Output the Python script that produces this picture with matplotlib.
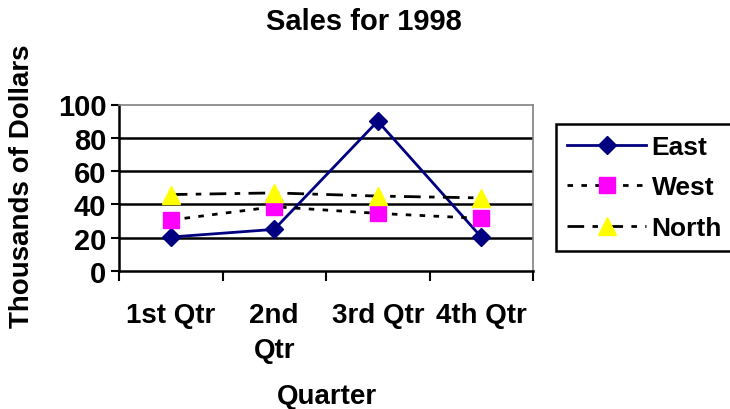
import matplotlib.pyplot as plt
from matplotlib.ticker import FixedLocator

plt.rcParams["font.family"] = ["Liberation Sans", "DejaVu Sans"]
plt.rcParams["font.weight"] = "bold"

quarters = ["1st Qtr", "2nd\nQtr", "3rd Qtr", "4th Qtr"]
east = [20.4, 25.0, 90.0, 20.4]
west = [30.6, 38.6, 34.6, 31.6]
north = [45.9, 46.9, 45.0, 43.9]
y_ticks = [0, 20, 40, 60, 80, 100]

fig = plt.figure(figsize=(7.3, 4.1), dpi=100)
ax = fig.add_axes([119 / 730, 1 - 272 / 410, (533 - 119) / 730, (272 - 105.5) / 410])

x = [1, 2, 3, 4]
ax.plot(x, east, color="#000080", lw=2, marker="D", ms=9, mfc="#000080", mec="#000080", label="East")
ax.plot(x, west, color="black", lw=2, ls=(0, (2, 3)), marker="s", ms=11, mfc="#FF00FF", mec="#FF00FF", label="West")
ax.plot(x, north, color="black", lw=2, ls=(0, (6, 3, 2, 3)), marker="^", ms=13, mfc="#FFFF00", mec="#FFFF00", label="North")

ax.set_xlim(0.5, 4.5)
ax.set_ylim(0, 100)
ax.set_yticks(y_ticks)
for t in y_ticks[1:-1]:
    ax.axhline(t, color="black", lw=1.8, zorder=0)
ax.set_xticks(x)
ax.set_xticklabels(quarters, fontsize=20, va="top", linespacing=1.45)
ax.xaxis.set_minor_locator(FixedLocator([0.5, 1.5, 2.5, 3.5, 4.5]))
ax.tick_params(axis="x", which="major", length=0, pad=22)
ax.tick_params(axis="x", which="minor", length=7, width=1.5, direction="out")
ax.tick_params(axis="y", length=6, width=1.5, labelsize=21, pad=3)

for s in ["top", "right"]:
    ax.spines[s].set_color("#808080")
    ax.spines[s].set_linewidth(1.2)
for s in ["left", "bottom"]:
    ax.spines[s].set_color("black")
    ax.spines[s].set_linewidth(1.8)

fig.text(364 / 730, 1 - 22 / 410, "Sales for 1998", fontsize=21, fontweight="bold", ha="center", va="center")
fig.text(22 / 730, 1 - 186 / 410, "Thousands of Dollars", fontsize=20, fontweight="bold", rotation=90, ha="center", va="center")
fig.text(327 / 730, 1 - 397 / 410, "Quarter", fontsize=20, fontweight="bold", ha="center", va="center")

leg = ax.legend(loc="upper left", bbox_to_anchor=(556 / 730, 1 - 125 / 410), bbox_transform=fig.transFigure,
                fontsize=19, frameon=True, fancybox=False, edgecolor="black", framealpha=1, handlelength=3.0,
                labelspacing=0.62, borderpad=0.42, handletextpad=0.2, borderaxespad=0)
leg.get_frame().set_linewidth(1.8)

fig.savefig("out.png", dpi=100)
